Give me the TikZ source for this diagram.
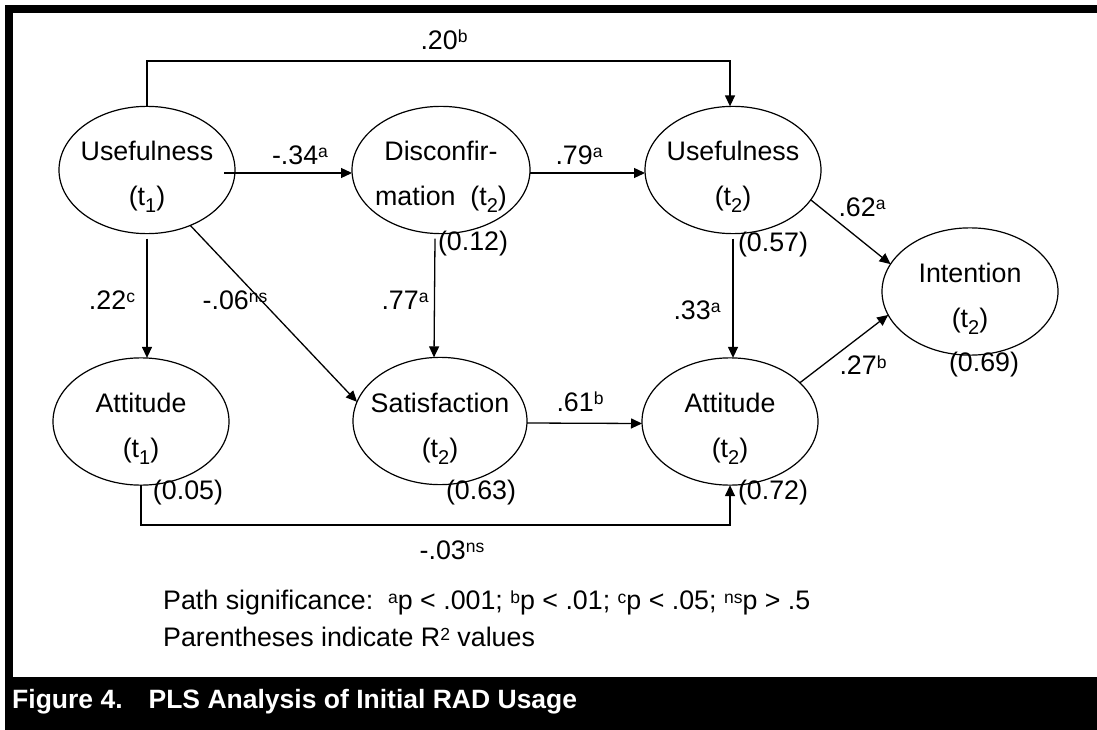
\documentclass[tikz,border=0pt]{standalone}
\usepackage{fontspec}
\setmainfont{Liberation Sans}
\usetikzlibrary{arrows.meta,shapes.geometric,calc}
\newcommand{\supr}[1]{\raisebox{6.5pt}{\fontsize{17.5}{17.5}\selectfont #1}}
\newcommand{\subr}[1]{\raisebox{-7pt}{\fontsize{20}{20}\selectfont #1}}
\newcommand{\twol}[2]{\raisebox{-4.5pt}[\height][\depth]{\makebox[0pt]{\begin{tabular}{@{}c@{}}#1\\#2\end{tabular}}}}
\begin{document}
\begin{tikzpicture}[x=1pt,y=-1pt,
  ell/.style={draw,line width=1.2pt,ellipse,minimum width=176pt,minimum height=108pt,inner sep=0pt,outer sep=0pt,font=\fontsize{26.8}{45}\selectfont},
  lbl/.style={inner sep=0pt,font=\fontsize{26.8}{30}\selectfont},
  arr/.style={line width=1.3pt,-{Triangle[length=11pt,width=10pt]}},
  frame/.style={fill=black}]
\useasboundingbox (0,0) rectangle (1097,730);
\fill[frame] (5,5) rectangle (1097,13);
\fill[frame] (5,5) rectangle (13,730);
\fill[frame] (5,677) rectangle (1097,730);

\node[ell] (u1) at (147,170) {\twol{Usefulness}{(t\subr{1})}};
\node[ell,minimum width=178pt] (dis) at (441,170) {\twol{Disconfir-}{mation\ \ (t\subr{2})}};
\node[ell] (u2) at (733,170) {\twol{Usefulness}{(t\subr{2})}};
\node[ell,minimum height=107pt] (int) at (970,291.5) {\twol{Intention}{(t\subr{2})}};
\node[ell,minimum height=109pt] (a1) at (141,421.5) {\twol{Attitude}{(t\subr{1})}};
\node[ell,minimum width=174pt] (sat) at (440,421) {\twol{Satisfaction}{(t\subr{2})}};
\node[ell,minimum height=109pt] (a2) at (730,421.5) {\twol{Attitude}{(t\subr{2})}};

\coordinate (topc) at (147,61);
\coordinate (botc) at (141,525);
\draw[arr] (u1.north) -- (topc) -| ([xshift=-3pt]u2.north);
\draw[arr] ([xshift=-11pt,yshift=-3pt]u1.east) -- ([yshift=-3pt]dis.west);
\draw[arr] ([yshift=-3pt]dis.east) -- ([yshift=-3pt]u2.west);
\draw[arr] ([yshift=-5pt]u1.south) -- (u1.south |- a1.north);
\draw[arr] ([xshift=-6pt,yshift=-5pt]dis.south) -- ([xshift=-6pt]sat.north);
\draw[arr] ([yshift=-5pt]u2.south) -- (u2.south |- a2.north);
\draw[arr] (u1.-52) -- (sat.167);
\draw[arr] (u2.-21) -- (int.161);
\draw[arr] (a2.29) -- (int.-164);
\draw[arr] ([yshift=-2pt]sat.east) -- ([yshift=-2pt]a2.west);
\draw[arr] (a1.south) -- (botc) -| (a2.south);

\node[lbl] (l20) at (444,40) {.20\supr{b}};
\node[lbl] (l34) at (300,155) {-.34\supr{a}};
\node[lbl] (l79) at (579,155) {.79\supr{a}};
\node[lbl] (l22) at (112,300) {.22\supr{c}};
\node[lbl] (l06) at (235,300) {-.06\supr{ns}};
\node[lbl] (l77) at (405,300) {.77\supr{a}};
\node[lbl] (r12) at (473,244) {(0.12)};
\node[lbl] (r57) at (773,245) {(0.57)};
\node[lbl] (l62) at (862,207) {.62\supr{a}};
\node[lbl] (l33) at (697,310) {.33\supr{a}};
\node[lbl] (l27) at (863,365) {.27\supr{b}};
\node[lbl] (r69) at (984,365) {(0.69)};
\node[lbl] (l61) at (580,402) {.61\supr{b}};
\node[lbl] (r05) at (188,493) {(0.05)};
\node[lbl] (r63) at (481,493) {(0.63)};
\node[lbl] (r72) at (773,493) {(0.72)};
\node[lbl] (l03) at (452,550) {-.03\supr{ns}};

\node[lbl,anchor=west] (leg1) at (163,603) {Path significance:\ \ \supr{a}p < .001; \supr{b}p < .01; \supr{c}p < .05; \supr{ns}p > .5};
\node[lbl,anchor=west] (leg2) at (163,637) {Parentheses indicate R\supr{2} values};
\node[anchor=west,text=white,inner sep=0pt,font=\bfseries\fontsize{26.5}{30}\selectfont] (title) at (12,702) {Figure 4.\hspace{26pt}PLS Analysis of Initial RAD Usage};
\end{tikzpicture}
\end{document}
